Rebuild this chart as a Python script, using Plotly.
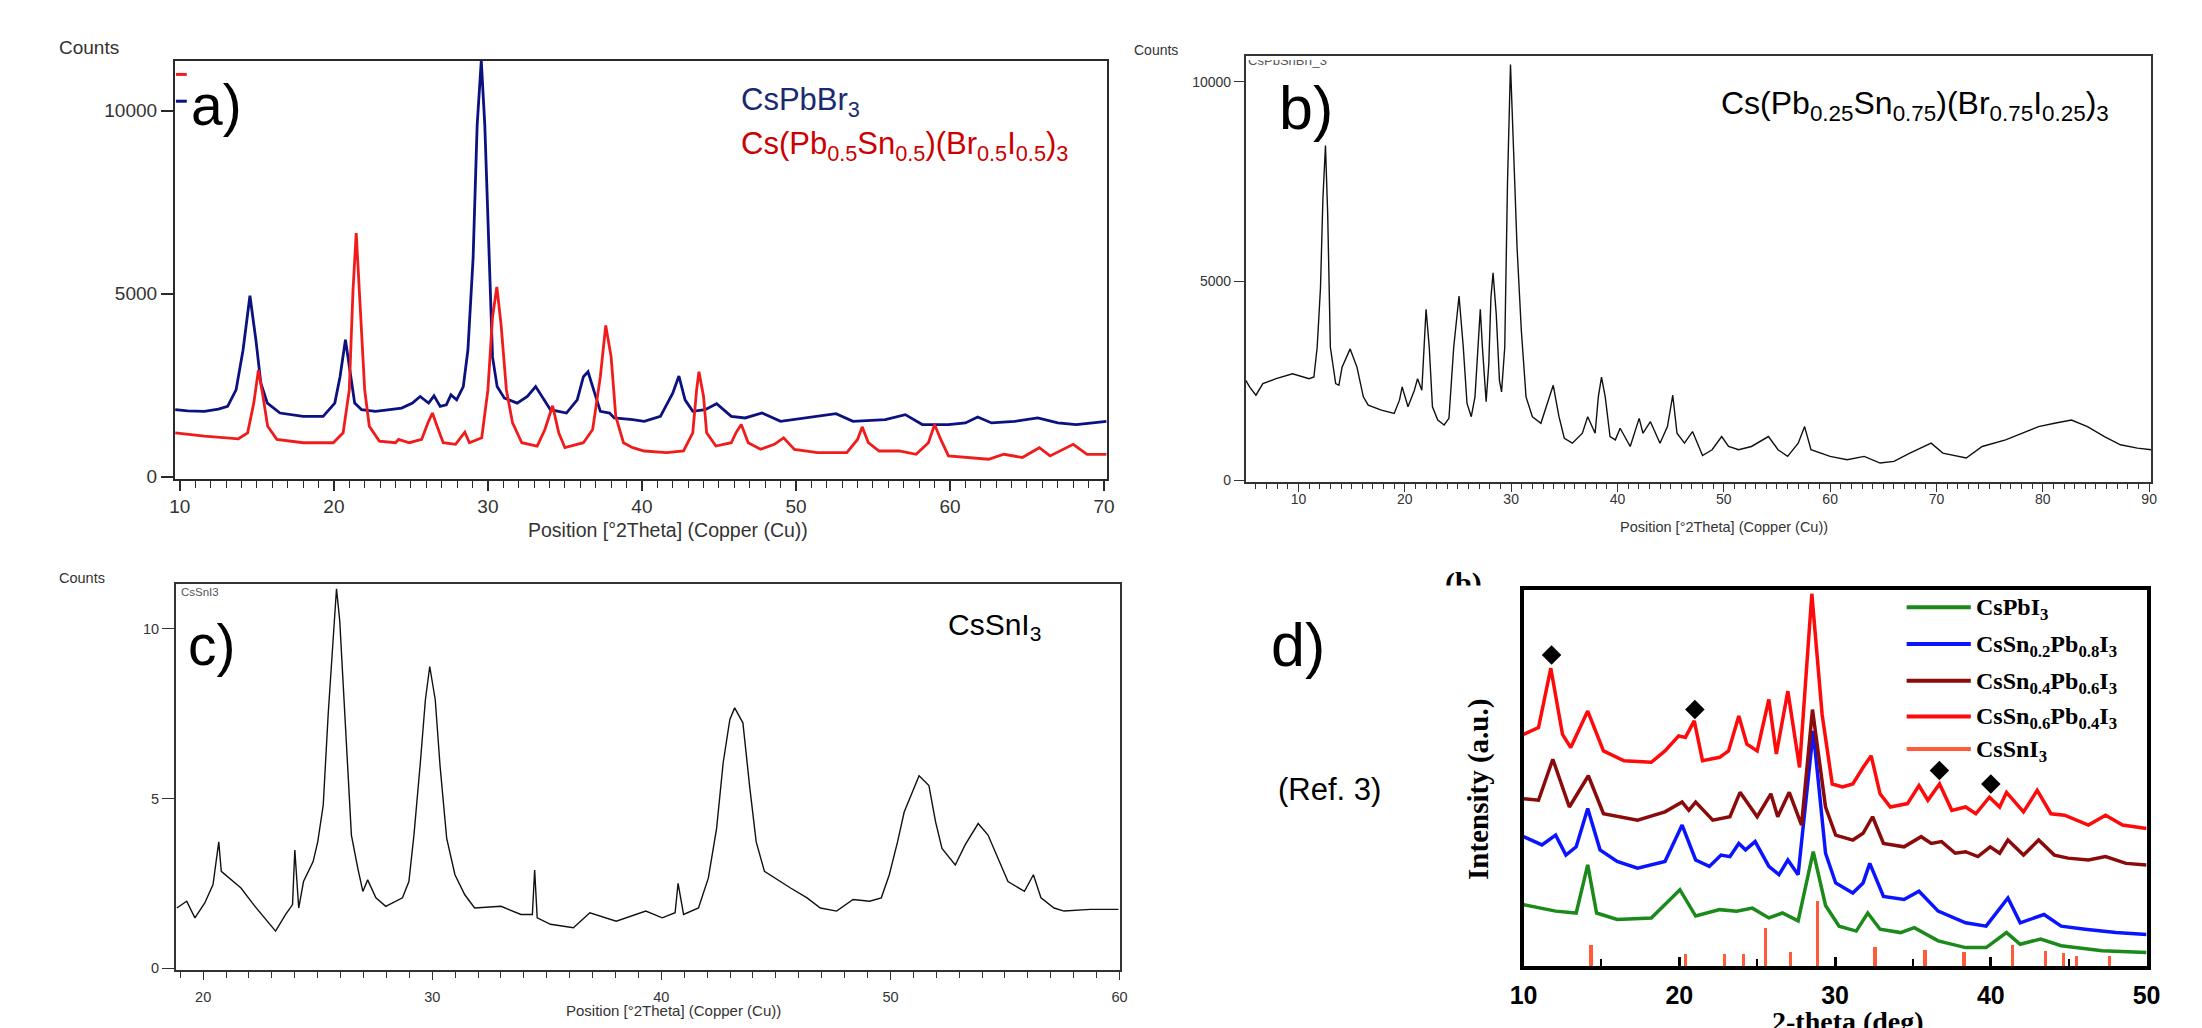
import plotly.graph_objects as go

W, H = 2202, 1028
def PX(x): return x / W
def PY(y): return 1 - y / H

SANS = "Liberation Sans"
SERIF = "Liberation Serif"

# ---------------- panel a : CsPbBr3 and Cs(Pb0.5Sn0.5)(Br0.5I0.5)3 ----------------
a_x_cspbbr3 = [9.7, 10.5, 11.6, 12.5, 13.1, 13.65, 14.1, 14.55, 14.94, 15.26, 15.68, 16.5, 18.0, 19.3,
               20.06, 20.4, 20.75, 21.0, 21.35, 21.8, 22.7, 24.4, 25.1, 25.6, 26.15, 26.5, 26.9, 27.3,
               27.6, 27.97, 28.4, 28.7, 29.04, 29.3, 29.57, 29.8, 30.06, 30.3, 30.6, 31.07, 31.9, 32.56,
               33.1, 33.5, 34.06, 35.1, 35.8, 36.2, 36.5, 36.8, 37.3, 37.9, 38.2, 39.4, 40.15, 41.2,
               42.0, 42.4, 42.8, 43.3, 44.1, 44.85, 45.8, 46.7, 47.8, 49.0, 50.7, 52.6, 53.7, 55.8,
               57.1, 58.2, 59.9, 61.0, 61.8, 62.7, 64.2, 65.7, 67.0, 68.2, 70.17]
a_y_cspbbr3 = [1832, 1800, 1787, 1850, 1922, 2374, 3457, 4946, 3728, 2554, 2013, 1742, 1652, 1652,
               2013, 2735, 3746, 3006, 2013, 1832, 1787, 1877, 2013, 2193, 2013, 2211, 1922, 1968,
               2238, 2103, 2464, 3457, 5984, 9594, 11370, 9594, 5984, 3276, 2464, 2148, 2013, 2193,
               2464, 2193, 1832, 1742, 2103, 2735, 2870, 2464, 1787, 1742, 1607, 1562, 1516, 1652,
               2284, 2753, 2103, 1787, 1832, 1995, 1652, 1607, 1742, 1516, 1607, 1724, 1516, 1562,
               1697, 1426, 1426, 1471, 1634, 1471, 1516, 1607, 1471, 1426, 1516]

a_x_mixed = [9.7, 11.6, 13.8, 14.4, 14.8, 15.1, 15.4, 15.7, 16.3, 18.0, 19.96, 20.6, 21.0, 21.24, 21.45,
             21.7, 22.0, 22.3, 22.95, 24.0, 24.2, 24.9, 25.7, 26.1, 26.4, 26.7, 27.1, 27.9, 28.5, 28.8,
             29.6, 30.0, 30.3, 30.58, 30.85, 31.2, 31.6, 32.2, 33.2, 33.7, 34.2, 34.6, 35.0, 36.2, 36.8,
             37.3, 37.65, 38.0, 38.3, 38.8, 39.4, 40.15, 41.6, 42.7, 43.3, 43.55, 43.7, 44.0, 44.2, 44.8,
             45.8, 46.1, 46.45, 46.9, 47.7, 48.6, 49.2, 49.9, 51.4, 53.3, 54.0, 54.3, 54.7, 55.4, 56.7,
             57.8, 58.6, 59.0, 59.4, 59.9, 61.2, 62.5, 63.5, 64.7, 65.8, 66.5, 68.0, 68.9, 70.17]
a_y_mixed = [1200, 1110, 1038, 1200, 2013, 2915, 2193, 1381, 1020, 930, 930, 1200, 2374, 5082, 6661,
             4630, 2374, 1381, 975, 930, 1020, 930, 1020, 1471, 1742, 1381, 930, 885, 1218, 930,
             1065, 2374, 4360, 5190, 4179, 2374, 1471, 930, 839, 1291, 1941, 1200, 794, 930, 1291,
             2735, 4134, 3276, 1652, 930, 794, 704, 659, 704, 1200, 2374, 2870, 2193, 1200, 839,
             930, 1200, 1426, 930, 749, 885, 1065, 749, 659, 659, 1020, 1363, 930, 704, 704,
             614, 930, 1426, 1020, 569, 524, 478, 614, 524, 794, 569, 885, 614, 614]

# ---------------- panel b : Cs(Pb0.25Sn0.75)(Br0.75I0.25)3 ----------------
b_x = [5.05, 5.4, 6.0, 6.65, 7.9, 9.44, 11.0, 11.45, 11.76, 12.07, 12.3, 12.54, 12.75, 13.0, 13.5, 13.8,
       14.1, 14.86, 15.5, 16.1, 16.56, 17.8, 19.0, 19.5, 19.75, 20.3, 20.9, 21.2, 21.6, 21.8, 22.0, 22.3,
       22.6, 23.1, 23.7, 24.15, 24.6, 25.1, 25.5, 25.85, 26.25, 26.6, 26.9, 27.1, 27.3, 27.65, 27.9,
       28.1, 28.3, 28.6, 28.9, 29.1, 29.4, 29.66, 29.94, 30.25, 30.56, 30.96, 31.4, 32.0, 32.8, 33.4,
       33.96, 34.5, 35.0, 35.76, 36.7, 37.2, 37.9, 38.2, 38.5, 38.85, 39.3, 39.8, 40.25, 41.2, 42.04,
       42.4, 43.1, 44.0, 44.7, 45.2, 45.6, 46.3, 47.06, 48.0, 48.9, 49.8, 50.45, 51.4, 52.6, 54.2,
       55.1, 56.0, 57.0, 57.6, 58.2, 60.0, 61.6, 63.2, 64.7, 66.0, 67.5, 69.5, 70.6, 72.8, 74.3,
       76.5, 78.0, 79.6, 81.1, 82.7, 84.2, 85.8, 87.3, 88.9, 90.2]
b_y = [2512, 2347, 2139, 2430, 2554, 2678, 2554, 2595, 3342, 4834, 7073, 8400, 6658, 3342, 2430, 2388,
       2844, 3300, 2844, 2098, 1891, 1766, 1683, 2015, 2347, 1849, 2264, 2554, 2264, 3342, 4295, 3342,
       1849, 1517, 1393, 1559, 3342, 4627, 3342, 1932, 1600, 2098, 3342, 4295, 3342, 1974, 2927,
       4585, 5207, 4171, 2512, 2222, 3342, 7488, 10431, 8317, 5829, 3756, 2098, 1600, 1435, 1932,
       2388, 1600, 1061, 937, 1186, 1600, 1186, 2098, 2595, 2098, 1103, 1020, 1310, 854, 1559,
       1186, 1476, 937, 1352, 2139, 1186, 937, 1227, 627, 771, 1103, 854, 771, 854, 1103,
       771, 605, 937, 1352, 771, 605, 522, 605, 439, 481, 688, 937, 688, 564, 854,
       1020, 1186, 1352, 1435, 1517, 1352, 1103, 896, 813, 771]
b_ref_positions = [12.48, 14.49, 15.1, 19.75, 21.2, 22.04, 25.07, 27.1, 28.2, 30.1, 33.84, 37.3, 38.54,
                   40.25, 42.04, 43.1, 45.2, 47.06, 49.68, 53.92, 57.5, 57.73, 59.2, 59.43, 60.1, 62.1,
                   62.83, 65.2, 66.8, 67.47, 69.0, 69.27, 78.67, 82.57, 85.97]

# ---------------- panel c : CsSnI3 ----------------
c_x = [18.85, 19.28, 19.64, 20.07, 20.43, 20.68, 20.79, 21.15, 21.65, 22.2, 22.8, 23.16, 23.6, 23.9, 24.0,
       24.17, 24.38, 24.8, 25.0, 25.24, 25.46, 25.68, 25.82, 25.96, 26.18, 26.47, 26.75, 26.97, 27.18,
       27.54, 27.97, 28.7, 28.98, 29.2, 29.48, 29.7, 29.89, 30.13, 30.34, 30.63, 30.99, 31.42, 31.85,
       33.0, 33.87, 34.37, 34.47, 34.58, 35.16, 36.16, 36.88, 38.03, 39.32, 40.04, 40.6, 40.73, 40.97,
       41.62, 42.05, 42.41, 42.7, 42.99, 43.2, 43.56, 43.85, 44.14, 44.5, 45.07, 45.64, 46.36, 46.94,
       47.65, 48.37, 49.09, 49.6, 49.95, 50.31, 50.6, 51.25, 51.68, 51.97, 52.25, 52.83, 53.26, 53.83,
       54.26, 54.7, 55.13, 55.85, 56.24, 56.57, 57.14, 57.58, 58.73, 59.95]
c_y = [1.77, 1.97, 1.48, 1.92, 2.46, 3.72, 2.85, 2.65, 2.36, 1.87, 1.38, 1.09, 1.58, 1.87, 3.48,
       1.77, 2.55, 3.14, 3.72, 4.80, 7.52, 9.96, 11.18, 10.25, 7.52, 3.92, 2.94, 2.26, 2.60,
       2.07, 1.82, 2.07, 2.55, 3.92, 6.06, 7.91, 8.89, 7.91, 5.96, 3.82, 2.75, 2.16, 1.77,
       1.82, 1.58, 1.58, 2.89, 1.48, 1.29, 1.19, 1.63, 1.38, 1.68, 1.48, 1.63, 2.50, 1.58,
       1.77, 2.65, 4.11, 6.06, 7.33, 7.67, 7.23, 5.38, 3.72, 2.85, 2.60, 2.36, 2.07, 1.77,
       1.68, 2.02, 1.97, 2.07, 2.75, 3.72, 4.60, 5.67, 5.38, 4.31, 3.53, 3.04, 3.63, 4.26,
       3.92, 3.24, 2.55, 2.26, 2.75, 2.07, 1.77, 1.68, 1.73, 1.73]

# ---------------- panel d : CsSn(x)Pb(1-x)I3 series (Ref. 3) ----------------
d_x_cspbi3 = [10.0, 12.06, 13.38, 14.12, 14.69, 16.01, 18.2, 20.04, 21.05, 22.59, 23.68, 24.69, 25.75,
              26.62, 27.63, 28.6, 29.39, 30.26, 31.36, 32.1, 32.89, 34.21, 35.09, 36.62, 38.38, 39.7,
              41.01, 41.89, 43.2, 44.52, 47.15, 50.0]
d_y_cspbi3 = [16.4, 14.7, 14.2, 27.0, 14.2, 12.5, 12.9, 20.4, 13.4, 15.1, 14.7, 15.5, 12.9,
              14.2, 12.1, 30.5, 16.2, 10.7, 9.4, 14.2, 9.9, 9.0, 10.3, 6.8, 5.0, 5.0,
              9.0, 5.9, 7.3, 5.5, 4.2, 3.7]
d_x_sn02 = [10.0, 11.18, 12.06, 12.72, 13.38, 14.12, 14.91, 16.01, 17.32, 19.08, 20.18, 21.05, 21.93,
            22.68, 23.25, 23.82, 24.25, 24.87, 25.75, 26.4, 26.97, 27.63, 28.6, 29.39, 30.04, 31.14,
            31.8, 32.23, 33.11, 34.43, 35.39, 36.62, 38.38, 39.7, 41.1, 41.89, 43.42, 44.52, 46.05,
            48.03, 50.0]
d_y_sn02 = [34.5, 32.3, 34.9, 29.6, 31.8, 42.0, 31.0, 27.9, 26.1, 27.9, 37.6, 28.3, 26.6,
            29.6, 29.2, 32.7, 31.0, 33.2, 26.6, 24.4, 28.3, 24.4, 62.6, 30.1, 22.2, 19.5,
            22.2, 27.4, 18.6, 17.8, 20.0, 14.7, 11.6, 10.7, 18.2, 11.6, 13.8, 10.7, 9.9,
            9.0, 8.5]
d_x_sn04 = [10.0, 10.96, 11.88, 12.94, 14.16, 15.13, 17.32, 19.08, 20.18, 20.61, 21.05, 22.15, 23.25,
            23.9, 25.0, 25.88, 26.32, 27.06, 27.85, 28.55, 29.39, 30.04, 31.14, 31.8, 32.41, 33.11,
            34.43, 35.53, 36.18, 36.84, 37.72, 38.38, 39.17, 39.96, 40.57, 41.1, 42.1, 43.07, 44.08,
            44.96, 46.27, 47.37, 48.68, 50.0]
d_y_sn04 = [44.6, 44.2, 55.1, 42.4, 50.7, 40.6, 38.9, 41.1, 43.7, 41.5, 43.7, 38.9, 39.8,
            46.3, 39.8, 45.9, 39.8, 46.3, 37.6, 68.3, 42.4, 34.9, 33.6, 35.4, 39.8, 32.7,
            31.8, 34.5, 32.7, 33.2, 30.1, 30.5, 29.2, 31.8, 30.1, 33.6, 29.6, 33.6, 29.6,
            28.8, 28.3, 29.2, 27.4, 27.0]
d_x_sn06 = [10.0, 10.96, 11.75, 12.5, 13.03, 14.12, 15.13, 16.45, 18.2, 19.08, 19.96, 20.39, 20.96,
            21.49, 22.59, 23.16, 23.82, 24.34, 25.0, 25.75, 26.23, 26.97, 27.72, 28.51, 29.17, 29.82,
            30.48, 31.14, 31.8, 32.32, 32.89, 33.55, 34.65, 35.39, 35.96, 36.71, 37.5, 38.38, 39.04,
            39.91, 40.57, 41.01, 42.1, 42.98, 43.86, 44.74, 46.27, 47.37, 48.46, 50.0]
d_y_sn06 = [61.7, 63.5, 79.3, 61.7, 58.2, 67.9, 57.3, 54.7, 54.3, 57.3, 61.3, 60.9, 65.3,
            54.7, 55.6, 57.3, 66.6, 59.1, 57.3, 71.0, 56.5, 73.2, 52.9, 99.1, 67.0, 48.5,
            47.7, 48.5, 52.9, 56.0, 45.9, 42.4, 43.3, 48.1, 44.2, 48.5, 41.5, 42.4, 40.6,
            45.0, 42.4, 46.3, 41.1, 46.8, 40.6, 40.2, 37.6, 40.2, 37.6, 36.7]
d_ref_cssni3_x = [14.3, 20.39, 22.85, 24.12, 25.53, 27.1, 28.82, 32.54, 35.75, 38.25, 41.36, 43.51,
                  44.65, 45.48, 47.59]
d_ref_cssni3_h = [5.5, 3.3, 3.3, 3.3, 10.0, 3.7, 17.3, 5.0, 4.3, 3.7, 5.5, 3.9, 3.4, 2.8, 2.8]
d_diamond_x = [11.8, 21.0, 36.7, 40.0]
d_diamond_y = [82.8, 68.3, 52.1, 48.5]

d_names = ["CsPbI<sub>3</sub>",
           "CsSn<sub>0.2</sub>Pb<sub>0.8</sub>I<sub>3</sub>",
           "CsSn<sub>0.4</sub>Pb<sub>0.6</sub>I<sub>3</sub>",
           "CsSn<sub>0.6</sub>Pb<sub>0.4</sub>I<sub>3</sub>",
           "CsSnI<sub>3</sub>"]
d_colors = ["#1b8a1b", "#0a14ff", "#8b0a0a", "#ff0a0a", "#ff5a3a"]

NAVY = "#0b1280"
RED_A = "#f01c1c"

fig = go.Figure()

# panel a
fig.add_trace(go.Scatter(x=a_x_cspbbr3, y=a_y_cspbbr3, mode="lines", xaxis="x", yaxis="y",
                         line=dict(color=NAVY, width=2.8)))
fig.add_trace(go.Scatter(x=a_x_mixed, y=a_y_mixed, mode="lines", xaxis="x", yaxis="y",
                         line=dict(color=RED_A, width=2.8)))
# panel b
fig.add_trace(go.Scatter(x=b_x, y=b_y, mode="lines", xaxis="x2", yaxis="y2",
                         line=dict(color="#111111", width=1.4)))
fig.add_trace(go.Scatter(x=b_ref_positions, y=[10700] * len(b_ref_positions), mode="markers",
                         xaxis="x2", yaxis="y2", cliponaxis=False,
                         marker=dict(symbol="line-ns", size=6, line=dict(color="#e3a04a", width=1.3))))
# panel c
fig.add_trace(go.Scatter(x=c_x, y=c_y, mode="lines", xaxis="x3", yaxis="y3",
                         line=dict(color="#111111", width=1.4)))
# panel d
fig.add_trace(go.Bar(x=d_ref_cssni3_x, y=d_ref_cssni3_h, width=0.2, xaxis="x4", yaxis="y4",
                     marker=dict(color=d_colors[4], line=dict(width=0))))
for xs, ys, col in [(d_x_cspbi3, d_y_cspbi3, d_colors[0]), (d_x_sn02, d_y_sn02, d_colors[1]),
                    (d_x_sn04, d_y_sn04, d_colors[2]), (d_x_sn06, d_y_sn06, d_colors[3])]:
    fig.add_trace(go.Scatter(x=xs, y=ys, mode="lines", xaxis="x4", yaxis="y4",
                             line=dict(color=col, width=3.5)))
fig.add_trace(go.Scatter(x=d_diamond_x, y=d_diamond_y, mode="markers", xaxis="x4", yaxis="y4",
                         marker=dict(symbol="diamond", size=15, color="black")))

# clipped partial texts (cut-off fragments at image edges)
fig.add_trace(go.Scatter(x=[1468], y=[0], mode="text", text=["(b)"], xaxis="x5", yaxis="y5",
                         cliponaxis=True, textposition="middle center",
                         textfont=dict(family=SERIF, size=30, color="black", weight="bold")))
fig.add_trace(go.Scatter(x=[1250], y=[62], mode="text", text=["CsPbSnBrI_3"], xaxis="x6", yaxis="y6",
                         cliponaxis=True, textposition="middle right",
                         textfont=dict(family=SANS, size=13, color="#555555")))

base = dict(showline=True, mirror=True, showgrid=False, zeroline=False)

def xa(dom, rng, anchor, lc, lw, ticks, tl, tw, fsize, mdt, mtl, fam=SANS, fcol="#333333", weight="normal", standoff=0):
    return dict(domain=[PX(dom[0]), PX(dom[1])], range=rng, anchor=anchor, linecolor=lc, linewidth=lw,
                ticks=ticks, ticklen=tl, tickwidth=tw, tickcolor=lc, tick0=0, dtick=10,
                tickfont=dict(family=fam, size=fsize, color=fcol, weight=weight),
                minor=dict(ticks=ticks, ticklen=mtl, tickwidth=tw * 0.8, tickcolor=lc, dtick=mdt, tick0=0),
                ticklabelstandoff=standoff, **base)

def ya(dom, rng, anchor, tv, lc, lw, tl, tw, fsize):
    return dict(domain=[PY(dom[0]), PY(dom[1])], range=rng, anchor=anchor, tickvals=tv,
                tickformat="d", ticks="outside", ticklen=tl, tickwidth=tw, tickcolor=lc,
                linecolor=lc, linewidth=lw, tickfont=dict(family=SANS, size=fsize, color="#333333"), **base)

layout = dict(
    width=W, height=H, margin=dict(l=0, r=0, t=0, b=0, pad=0),
    paper_bgcolor="white", plot_bgcolor="white", showlegend=False,
    xaxis=xa((163, 1106.7), [9.68, 70.17], "y", "#2a2a2a", 2, "outside", 10, 1.5, 19, 1, 7, standoff=-1),
    yaxis=ya((483, 61), [-68, 11375], "x", [0, 5000, 10000], "#2a2a2a", 2, 12, 1.5, 19),
    xaxis2=xa((1247.7, 2165), [5.05, 90.22], "y2", "#333333", 1.8, "outside", 8, 1.2, 14, 1, 5, standoff=-5),
    yaxis2=ya((486, 56), [-42, 10654], "x2", [0, 5000, 10000], "#333333", 1.8, 10, 1.2, 14),
    xaxis3=xa((164, 1120), [18.81, 60.01], "y3", "#333333", 1.8, "outside", 8, 1.2, 14.5, 1, 6, standoff=5),
    yaxis3=ya((977.7, 589), [-0.06, 11.31], "x3", [0, 5, 10], "#333333", 1.8, 12, 1.2, 14.5),
    xaxis4=xa((1529, 2160), [10, 50], "y4", "black", 3.5, "inside", 10, 2.5, 25, 5, 8,
              fcol="black", weight="bold", standoff=4),
    yaxis4=dict(domain=[PY(974), PY(595)], range=[0, 100], anchor="x4", showticklabels=False,
                ticks="", linecolor="black", linewidth=3.5, **base),
    xaxis5=dict(domain=[PX(1430), PX(1530)], range=[1430, 1530], anchor="y5", visible=False),
    yaxis5=dict(domain=[PY(590), PY(560)], range=[0, 1], anchor="x5", visible=False),
    xaxis6=dict(domain=[PX(1248), PX(1400)], range=[1248, 1400], anchor="y6", visible=False),
    yaxis6=dict(domain=[PY(80), PY(60.5)], range=[80, 60.5], anchor="x6", visible=False),
    bargap=0,
)

anns = []
def ann(text, x, y, size, color="black", xanchor="left", yanchor="middle", family=SANS,
        weight="normal", angle=0):
    anns.append(dict(text=text, x=PX(x), y=PY(y), xref="paper", yref="paper", showarrow=False,
                     xanchor=xanchor, yanchor=yanchor, textangle=angle,
                     font=dict(family=family, size=size, color=color, weight=weight)))

# panel a texts
ann("Counts", 44, 47.5, 19, "#333333")
ann("a)", 177, 106, 57)
ann("CsPbBr<sub>3</sub>", 734, 103, 31, "#1a2a6e")
ann("Cs(Pb<sub>0.5</sub>Sn<sub>0.5</sub>)(Br<sub>0.5</sub>I<sub>0.5</sub>)<sub>3</sub>", 734, 147, 31, "#cc0000")
ann("Position [°2Theta] (Copper (Cu))", 662.5, 534, 19.5, "#333333", xanchor="center")
# panel b texts
ann("Counts", 1132, 50, 14, "#333333")
ann("b)", 1279, 109, 61)
ann("Cs(Pb<sub>0.25</sub>Sn<sub>0.75</sub>)(Br<sub>0.75</sub>I<sub>0.25</sub>)<sub>3</sub>", 1727, 106, 32, "black")
ann("Position [°2Theta] (Copper (Cu))", 1732, 531, 14.5, "#333333", xanchor="center")
# panel c texts
ann("Counts", 44, 583, 14.5, "#333333")
ann("CsSnI3", 167, 597, 11.5, "#555555")
ann("c)", 174, 650, 57)
ann("CsSnI<sub>3</sub>", 944, 631, 30, "black")
ann("Position [°2Theta] (Copper (Cu))", 668, 1018, 15, "#333333", xanchor="center")
# panel d texts
ann("d)", 1271, 650, 61)
ann("(Ref. 3)", 1332, 796, 31, "black", xanchor="center")
ann("Intensity (a.u.)", 1484, 796, 29, "black", xanchor="center", family=SERIF, weight="bold", angle=-90)
ann("2-theta (deg)", 1858, 1030, 28, "black", xanchor="center", family=SERIF, weight="bold")
leg_y = [612, 649, 686, 722, 755]
shapes = []
for name, col, yy in zip(d_names, d_colors, leg_y):
    shapes.append(dict(type="line", xref="paper", yref="paper", x0=PX(1917), x1=PX(1982),
                       y0=PY(yy), y1=PY(yy), line=dict(color=col, width=4)))
    ann(name, 1985, yy + 2, 24, "black", family=SERIF, weight="bold")
# small legend dashes of panel a (instrument software markers)
shapes.append(dict(type="line", xref="paper", yref="paper", x0=PX(164), x1=PX(175), y0=PY(75), y1=PY(75),
                   line=dict(color=RED_A, width=3)))
shapes.append(dict(type="line", xref="paper", yref="paper", x0=PX(164), x1=PX(175), y0=PY(102), y1=PY(102),
                   line=dict(color=NAVY, width=3)))

layout["annotations"] = anns
layout["shapes"] = shapes
fig.update_layout(**layout)

fig.write_html("out.html", config={"displayModeBar": False},
               post_script="document.body.style.margin='0';document.body.style.overflow='hidden';")
